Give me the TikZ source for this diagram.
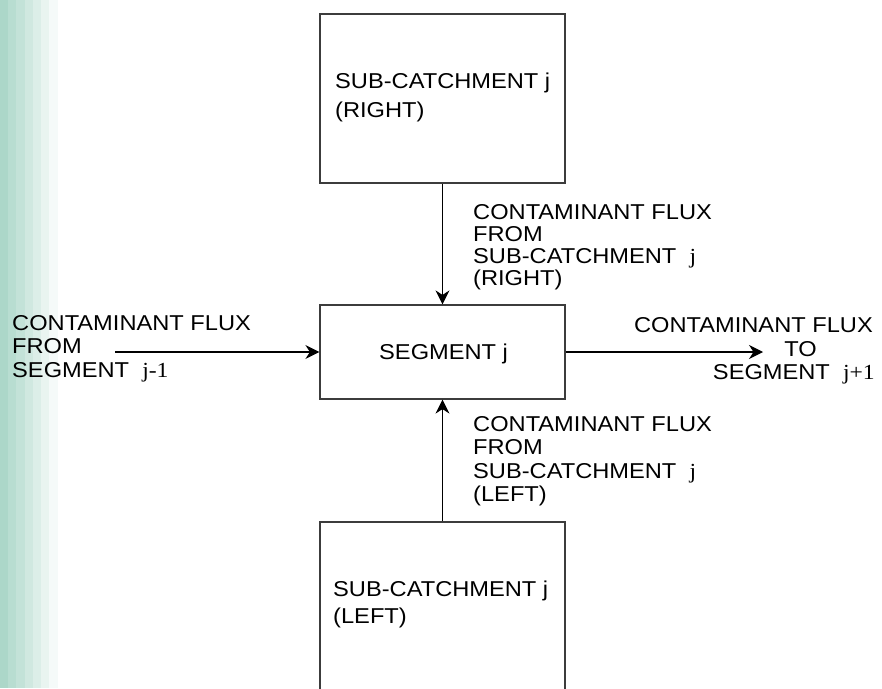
\documentclass[tikz,border=0pt]{standalone}
\usepackage{fontspec}
\setmainfont{Liberation Sans}
\newfontfamily\labf[FakeStretch=1.1]{Liberation Sans}
\newfontfamily\jserif[FakeStretch=1.1]{Liberation Serif}
\usetikzlibrary{arrows.meta}
\definecolor{stripcol}{RGB}{172,215,201}
\definecolor{linecol}{RGB}{60,60,60}
\newcommand\vlines[2]{\vtop{\baselineskip=#1\relax\lineskiplimit=-50pt #2}}
\tikzset{
  blk/.style={draw=linecol, line width=1.2pt},
  txt/.style={anchor=base west, inner sep=0pt, font=\labf\fontsize{21.5}{23.5}\selectfont},
  txtr/.style={anchor=base east, inner sep=0pt, font=\labf\fontsize{21.5}{23.5}\selectfont},
  flow/.style={draw=black, line width=1.2pt, -{Stealth[length=14pt,width=14pt,inset=4.5pt]}}
}
\begin{document}
\begin{tikzpicture}[x=1pt,y=-1pt]
\useasboundingbox (0,0) rectangle (882,688);
\clip (0,0) rectangle (882,688);
\fill[white] (0,0) rectangle (882,688);
% left gradient strip
\foreach \p [count=\i from 0] in {100,86,72,57,42,27,12}{
  \fill[stripcol!\p!white] (\i*8.2,0) rectangle (\i*8.2+8.3,688);
}
% boxes
\node[blk, minimum width=245pt, minimum height=169pt, inner sep=0pt] (top) at (442.5,98.5) {};
\node[blk, minimum width=245pt, minimum height=94pt, inner sep=0pt] (seg) at (442.5,352) {};
\node[blk, minimum width=245pt, minimum height=200pt, inner sep=0pt] (bot) at (442.5,622) {};
% box labels
\node[txt] (toplab) at (335,88) {\vlines{29pt}{\hbox{SUB-CATCHMENT j}\hbox{(RIGHT)}}};
\node[txt] (seglab) at (379,359) {SEGMENT j};
\node[txt] (botlab) at (333,596) {\vlines{27pt}{\hbox{SUB-CATCHMENT j}\hbox{(LEFT)}}};
% connectors
\coordinate (inL) at (115,352);
\coordinate (outR) at (763,352);
\draw[flow] (top.south) -- (seg.north);
\draw[flow] (bot.north) -- (seg.south);
\draw[flow] (inL) -- (seg.west);
\draw[flow] (seg.east) -- (outR);
% connector labels
\node[txt] (lt) at (473,219) {\vlines{22pt}{\hbox{CONTAMINANT FLUX}\hbox{FROM}\hbox{SUB-CATCHMENT\ \ {\jserif j}}\hbox{(RIGHT)}}};
\node[txt] (lb) at (473,431) {\vlines{23.5pt}{\hbox{CONTAMINANT FLUX}\hbox{FROM}\hbox{SUB-CATCHMENT\ \ {\jserif j}}\hbox{(LEFT)}}};
\node[txt] (ll) at (12,330) {\vlines{23.5pt}{\hbox{CONTAMINANT FLUX}\hbox{FROM}\hbox{SEGMENT\ \ {\jserif j-1}}}};
\node[txtr] (lr1) at (873,332) {CONTAMINANT FLUX};
\node[txtr] (lr2) at (817,356) {TO};
\node[txtr] (lr3) at (875,379) {SEGMENT\ \ {\jserif j+1}};
\end{tikzpicture}
\end{document}
